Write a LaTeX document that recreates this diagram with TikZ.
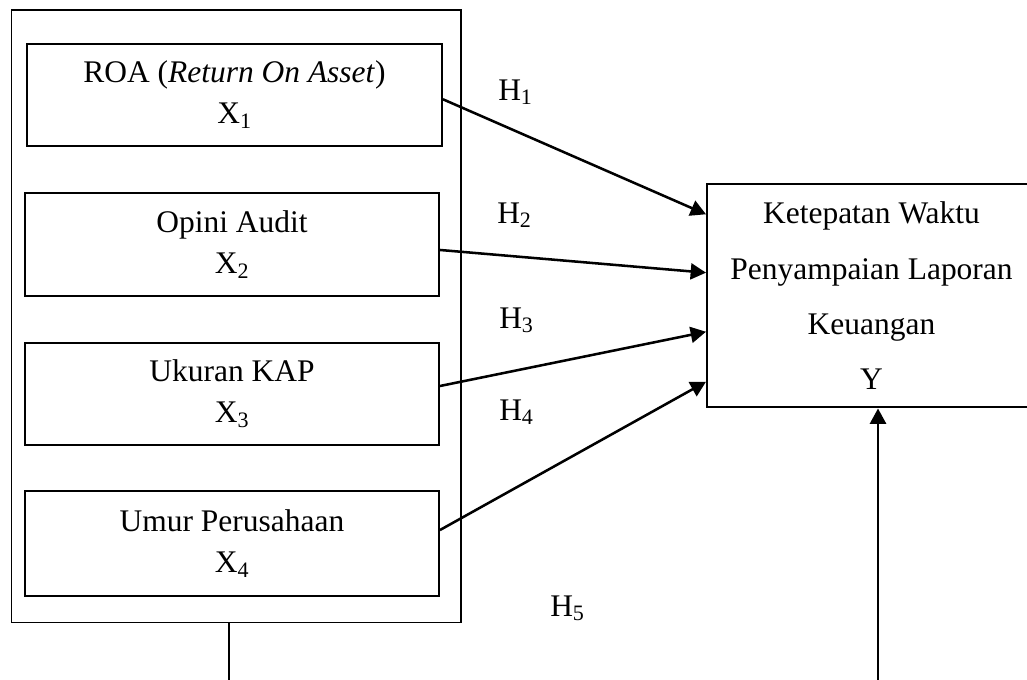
\documentclass[tikz,border=0pt]{standalone}
\usepackage{fontspec}
\setmainfont{Liberation Serif}
\usetikzlibrary{arrows.meta,calc}
\tikzset{
  varbox/.style={draw, line width=1.4pt, rectangle, align=center, inner sep=0pt,
    font=\fontsize{23.6}{30.75}\selectfont},
  outerbox/.style={draw, line width=1.4pt, rectangle, inner sep=0pt},
  ybox/.style={draw, line width=1.5pt, rectangle, align=center, inner sep=0pt,
    font=\fontsize{23.6}{41.5}\selectfont},
  conn/.style={line width=1.9pt},
  arr/.style={line width=1.9pt, -{Triangle[length=11.5pt,width=12pt]}},
  hlabel/.style={anchor=base west, inner sep=0pt, font=\fontsize{23.6}{28}\selectfont}
}
\begin{document}
\begin{tikzpicture}[x=0.75pt,y=-0.75pt]
\useasboundingbox (0,0) rectangle (1027,679);
\clip (0,0) rectangle (1027,679);
\fill[white] (0,0) rectangle (1027,679);

% outer container
\node[outerbox, minimum width=336.9pt, minimum height=459.4pt] (outer) at (236.1,316.25) {};

% independent variables
\node[varbox, minimum width=311.25pt, minimum height=76.5pt] (x1) at (234.5,95)
  {ROA (\textit{Return On Asset})\\X\textsubscript{1}};
\node[varbox, minimum width=310.5pt, minimum height=77.25pt] (x2) at (232,244.5)
  {Opini Audit\\X\textsubscript{2}};
\node[varbox, minimum width=310.5pt, minimum height=76.5pt] (x3) at (232,394)
  {Ukuran KAP\\X\textsubscript{3}};
\node[varbox, minimum width=310.5pt, minimum height=78.75pt] (x4) at (232,543.5)
  {Umur Perusahaan\\X\textsubscript{4}};

% dependent variable
\node[ybox, minimum width=246.75pt, minimum height=167.6pt] (y) at (871.5,295.75)
  {Ketepatan Waktu\\Penyampaian Laporan\\Keuangan\\Y};

% arrows
\draw[arr] ([yshift=-3.2pt]x1.east) -- ([yshift=61.1pt]y.west);
\draw[arr] ([yshift=-4.1pt]x2.east) -- ([yshift=17.3pt]y.west);
\draw[arr] ([yshift=6pt]x3.east) -- ([yshift=-27pt]y.west);
\draw[arr] ([yshift=10.1pt]x4.east) -- ([yshift=-64.5pt]y.west);

% bottom connectors
\coordinate (lo) at (229,695);
\coordinate (ro) at (878,695);
\draw[conn] (lo |- outer.south) -- (lo);
\draw[arr] (ro) -- (ro |- y.south);

% labels
\node[hlabel] (h1) at (498,100) {H\textsubscript{1}};
\node[hlabel] (h2) at (497,223) {H\textsubscript{2}};
\node[hlabel] (h3) at (499,328) {H\textsubscript{3}};
\node[hlabel] (h4) at (499,420) {H\textsubscript{4}};
\node[hlabel] (h5) at (550,616) {H\textsubscript{5}};
\end{tikzpicture}
\end{document}
